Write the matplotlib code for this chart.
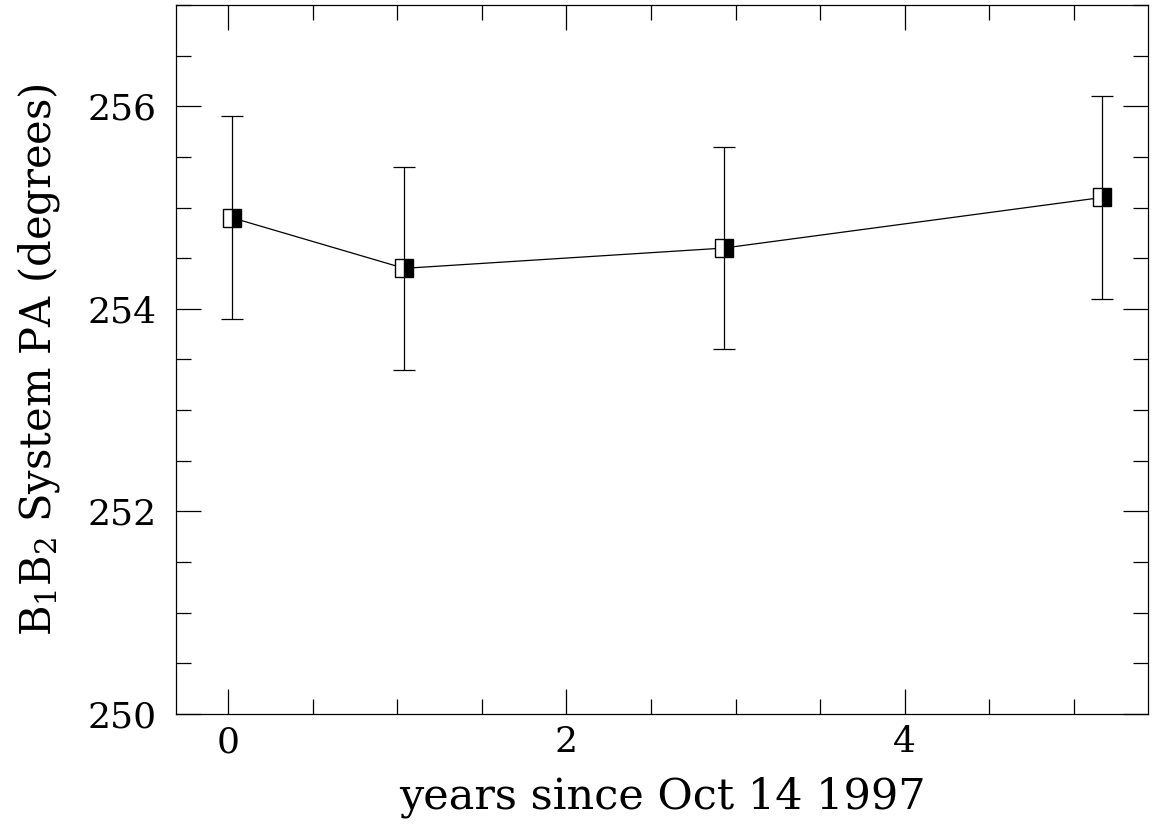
import matplotlib
matplotlib.use("Agg")
import matplotlib.pyplot as plt
from matplotlib.ticker import MultipleLocator

# data
years = [0.02, 1.04, 2.93, 5.17]
pa = [254.9, 254.4, 254.6, 255.1]
pa_err = [1.0, 1.0, 1.0, 1.0]

plt.rcParams['font.family'] = ['DejaVu Serif']
plt.rcParams['mathtext.fontset'] = 'dejavuserif'

fig = plt.figure(figsize=(11.61, 8.31), dpi=100)
ax = fig.add_axes([0.1516, 0.1408, 0.8372, 0.8532])

ax.errorbar(years, pa, yerr=pa_err, fmt='none', ecolor='black', elinewidth=0.9, capsize=8, capthick=0.9)
ax.plot(years, pa, color='black', lw=0.9, marker='s', markersize=13,
        fillstyle='right', markerfacecolor='black', markerfacecoloralt='white',
        markeredgecolor='black', markeredgewidth=1.0)

ax.set_xlim(-0.31, 5.44)
ax.set_ylim(250, 257)
ax.xaxis.set_major_locator(MultipleLocator(2))
ax.xaxis.set_minor_locator(MultipleLocator(0.5))
ax.yaxis.set_major_locator(MultipleLocator(2))
ax.yaxis.set_minor_locator(MultipleLocator(0.5))
ax.tick_params(which='both', direction='in', top=True, right=True, width=0.9, labelsize=26)
ax.tick_params(axis='x', pad=8)
ax.tick_params(axis='y', pad=14)
ax.tick_params(which='major', length=18)
ax.tick_params(which='minor', length=11)
for s in ax.spines.values():
    s.set_linewidth(0.9)

ax.set_xlabel('years since Oct 14 1997', fontsize=31, labelpad=12)
ax.set_ylabel(r'B$_1$B$_2$ System PA (degrees)', fontsize=30, labelpad=18)

fig.savefig('out.png', dpi=100)
